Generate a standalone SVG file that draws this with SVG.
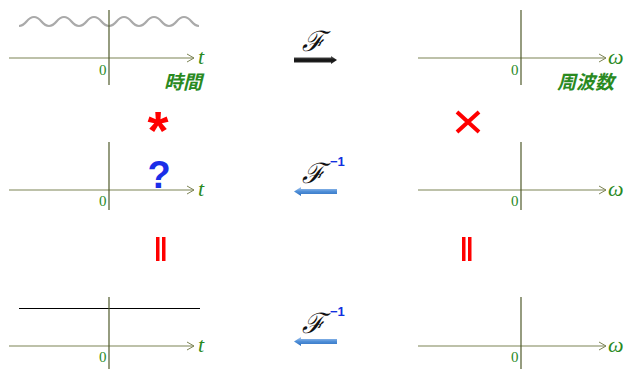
<svg xmlns="http://www.w3.org/2000/svg" width="629" height="369" viewBox="0 0 629 369">
  <defs>
    <marker id="axisHead" markerWidth="10" markerHeight="10" refX="8" refY="5" orient="auto" markerUnits="userSpaceOnUse">
      <path d="M1,1 L8,5 L1,9" fill="none" stroke="#7d8455" stroke-width="1"/>
    </marker>
    <linearGradient id="blackArrow" x1="0" y1="0" x2="0" y2="1">
      <stop offset="0" stop-color="#666"/>
      <stop offset="0.5" stop-color="#111"/>
      <stop offset="1" stop-color="#333"/>
    </linearGradient>
    <linearGradient id="blueArrow" x1="0" y1="0" x2="0" y2="1">
      <stop offset="0" stop-color="#a9c8ef"/>
      <stop offset="0.5" stop-color="#4f8fd8"/>
      <stop offset="1" stop-color="#2f6fbf"/>
    </linearGradient>
  </defs>
  <style>
    .haxis { stroke: #7d8455; stroke-width: 1.2; fill: none; }
    .vaxis { stroke: #4f5a2a; stroke-width: 1.2; fill: none; }
    .zero { font-family: "Liberation Serif", serif; font-size: 15px; fill: #2a8a1f; }
    .var { font-family: "Liberation Serif", serif; font-style: italic; font-size: 22px; fill: #2a8a1f; }
    .jp { font-family: "Noto Sans CJK JP", sans-serif; font-style: italic; font-weight: bold; font-size: 19px; fill: #2a8a1f; }
    .op { font-family: "Liberation Sans", sans-serif; font-weight: bold; fill: #ff0000; }
    .script { font-family: "DejaVu Serif", serif; font-style: italic; font-size: 28px; fill: #111; }
    .inv { font-family: "Liberation Sans", sans-serif; font-weight: bold; font-size: 13px; fill: #1030e0; }
  </style>

  <!-- time-domain plot: cosine signal -->
  <g id="plot-time-top">
    <path d="M19,26 C26.5,26 26.5,17 34,17 C41.5,17 41.5,26 49,26 C56.5,26 56.5,17 64,17 C71.5,17 71.5,26 79,26 C86.5,26 86.5,17 94,17 C101.5,17 101.5,26 109,26 C116.5,26 116.5,17 124,17 C131.5,17 131.5,26 139,26 C146.5,26 146.5,17 154,17 C161.5,17 161.5,26 169,26 C176.5,26 176.5,17 184,17 C191.5,17 191.5,26 199,26" fill="none" stroke="#aaaaaa" stroke-width="2.2"/>
    <line class="haxis" x1="9" y1="58" x2="194" y2="58" marker-end="url(#axisHead)"/>
    <line class="vaxis" x1="109" y1="10" x2="109" y2="85"/>
    <text class="zero" x="99" y="75">0</text>
    <text class="var" x="198" y="64">t</text>
    <text class="jp" x="164" y="89">時間</text>
  </g>

  <!-- frequency-domain plot -->
  <g id="plot-freq-top">
    <line class="haxis" x1="418" y1="58" x2="606" y2="58" marker-end="url(#axisHead)"/>
    <line class="vaxis" x1="521" y1="10" x2="521" y2="85"/>
    <text class="zero" x="511" y="75">0</text>
    <text class="var" x="608" y="64">ω</text>
    <text class="jp" x="557" y="89">周波数</text>
  </g>

  <!-- unknown time signal -->
  <g id="plot-time-mid">
    <line class="haxis" x1="9" y1="190" x2="194" y2="190" marker-end="url(#axisHead)"/>
    <line class="vaxis" x1="109" y1="142" x2="109" y2="210"/>
    <text class="zero" x="99" y="206">0</text>
    <text class="var" x="198" y="196">t</text>
    <text x="159" y="188" text-anchor="middle" font-family="Liberation Sans, sans-serif" font-weight="bold" font-size="38" fill="#1a2ee8">?</text>
  </g>

  <g id="plot-freq-mid">
    <line class="haxis" x1="418" y1="190" x2="606" y2="190" marker-end="url(#axisHead)"/>
    <line class="vaxis" x1="521" y1="142" x2="521" y2="210"/>
    <text class="zero" x="511" y="206">0</text>
    <text class="var" x="608" y="196">ω</text>
  </g>

  <!-- constant time signal -->
  <g id="plot-time-bottom">
    <line x1="19" y1="308.5" x2="200" y2="308.5" stroke="#000" stroke-width="1"/>
    <line class="haxis" x1="9" y1="346" x2="194" y2="346" marker-end="url(#axisHead)"/>
    <line class="vaxis" x1="109" y1="297" x2="109" y2="369"/>
    <text class="zero" x="99" y="362">0</text>
    <text class="var" x="198" y="352">t</text>
  </g>

  <g id="plot-freq-bottom">
    <line class="haxis" x1="418" y1="346" x2="606" y2="346" marker-end="url(#axisHead)"/>
    <line class="vaxis" x1="521" y1="297" x2="521" y2="369"/>
    <text class="zero" x="511" y="362">0</text>
    <text class="var" x="608" y="352">ω</text>
  </g>

  <!-- operators between rows -->
  <g id="op-convolution">
    <text class="op" x="158" y="149" text-anchor="middle" font-size="54">*</text>
  </g>
  <g id="op-product">
    <path d="M457,112 L479,132 M479,112 L457,132" stroke="#ff0000" stroke-width="4" fill="none"/>
  </g>
  <g id="op-equal-left">
    <rect x="156" y="237" width="3.5" height="24" fill="#ff0000"/>
    <rect x="162" y="237" width="3.5" height="24" fill="#ff0000"/>
  </g>
  <g id="op-equal-right">
    <rect x="462" y="237" width="3.5" height="24" fill="#ff0000"/>
    <rect x="468" y="237" width="3.5" height="24" fill="#ff0000"/>
  </g>

  <!-- transform arrows -->
  <g id="connectors">
    <g id="forward">
      <text class="script" x="302" y="51">ℱ</text>
      <path d="M294,57.5 L331,57.5 L331,56 L337,60 L331,64 L331,62.5 L294,62.5 Z" fill="url(#blackArrow)"/>
    </g>
    <g id="inverse-mid">
      <text class="script" x="302" y="183">ℱ</text>
      <text class="inv" x="330" y="166">−1</text>
      <path d="M337,189 L301,189 L301,187 L294,191.5 L301,196 L301,194 L337,194 Z" fill="url(#blueArrow)"/>
    </g>
    <g id="inverse-bottom">
      <text class="script" x="302" y="333">ℱ</text>
      <text class="inv" x="330" y="316">−1</text>
      <path d="M337,339 L301,339 L301,337 L294,341.5 L301,346 L301,344 L337,344 Z" fill="url(#blueArrow)"/>
    </g>
  </g>
</svg>
